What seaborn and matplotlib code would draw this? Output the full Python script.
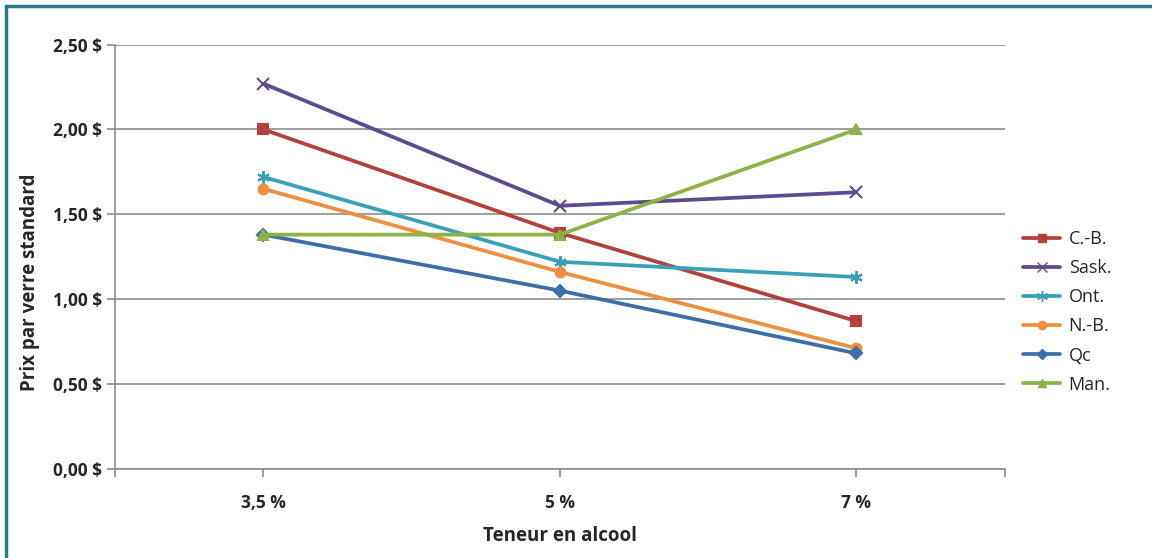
import matplotlib
matplotlib.use("Agg")
import matplotlib.pyplot as plt
import matplotlib.ticker as mticker
from matplotlib.lines import Line2D
import seaborn as sns
import pandas as pd

# data
teneur = ['3,5 %', '5 %', '7 %']
provinces = ['C.-B.', 'Sask.', 'Ont.', 'N.-B.', 'Qc', 'Man.']
prix_cb = [2.00, 1.39, 0.87]
prix_sask = [2.27, 1.55, 1.63]
prix_ont = [1.72, 1.22, 1.13]
prix_nb = [1.65, 1.16, 0.71]
prix_qc = [1.38, 1.05, 0.68]
prix_man = [1.38, 1.38, 2.00]

couleurs = ['#b3403d', '#5e4a8c', '#3aa0b8', '#ed8f3e', '#3e6eaa', '#8db248']
marqueurs = ['s', 'x', (6, 2, 0), 'o', 'D', '^']
tailles = [7, 8, 9, 7, 6, 7]

series = [prix_cb, prix_sask, prix_ont, prix_nb, prix_qc, prix_man]
df = pd.concat([pd.DataFrame({'teneur': teneur, 'prix': v, 'prov': p})
                for p, v in zip(provinces, series)])

sns.set_style('white')
plt.rcParams['font.family'] = ['Open Sans', 'DejaVu Sans']

fig = plt.figure(figsize=(11.52, 5.58), dpi=100)
ax = fig.add_axes([0.1, 0.16, 0.772, 0.76])

for p, c, m, s in zip(provinces, couleurs, marqueurs, tailles):
    sub = df[df['prov'] == p]
    sns.lineplot(data=sub, x='teneur', y='prix', ax=ax, color=c, marker=m,
                 markersize=s, markeredgecolor=c, markeredgewidth=1.5,
                 linewidth=2.7, label=p, sort=False)

ax.set_xlim(-0.5, 2.5)
ax.set_ylim(0, 2.5)
ax.set_yticks([0, 0.5, 1.0, 1.5, 2.0, 2.5])
ax.yaxis.set_major_formatter(mticker.FuncFormatter(
    lambda v, pos: f'{v:.2f}'.replace('.', ',') + ' $'))
ax.grid(axis='y', color='#8c8c8c', linewidth=1.2)
ax.set_axisbelow(True)

for side in ['top', 'right']:
    ax.spines[side].set_visible(False)
for side in ['left', 'bottom']:
    ax.spines[side].set_color('#8c8c8c')
    ax.spines[side].set_linewidth(1.2)

ax.set_xticks([-0.5, 2.5], minor=True)
ax.tick_params(axis='both', which='both', direction='out', length=6,
               color='#8c8c8c', width=1.2, bottom=True, left=True,
               labelsize=12.5)
ax.tick_params(axis='x', pad=12)
for lbl in ax.get_xticklabels() + ax.get_yticklabels():
    lbl.set_fontweight('bold')

ax.set_xlabel('Teneur en alcool', fontsize=13.5, fontweight='bold', labelpad=10)
ax.set_ylabel('Prix par verre standard', fontsize=13.5, fontweight='bold')
ax.yaxis.set_label_coords(-0.085, 0.44)

handles = [Line2D([], [], color=c, marker=m, markersize=s - 1,
                  markeredgecolor=c, linewidth=2.7)
           for c, m, s in zip(couleurs, marqueurs, tailles)]
ax.legend(handles, provinces, loc='center left', bbox_to_anchor=(1.003, 0.37),
          frameon=False, fontsize=13, handlelength=2.0, handletextpad=0.5,
          labelspacing=0.62)

# teal frame around the figure
fig.add_artist(Line2D([0.005, 0.005], [0, 0.99], transform=fig.transFigure,
                      color='#2b7b85', linewidth=2.5))
fig.add_artist(Line2D([0.005, 1.0], [0.99, 0.99], transform=fig.transFigure,
                      color='#2b7b85', linewidth=2.5))

fig.savefig('out.png', dpi=100, facecolor='white')
